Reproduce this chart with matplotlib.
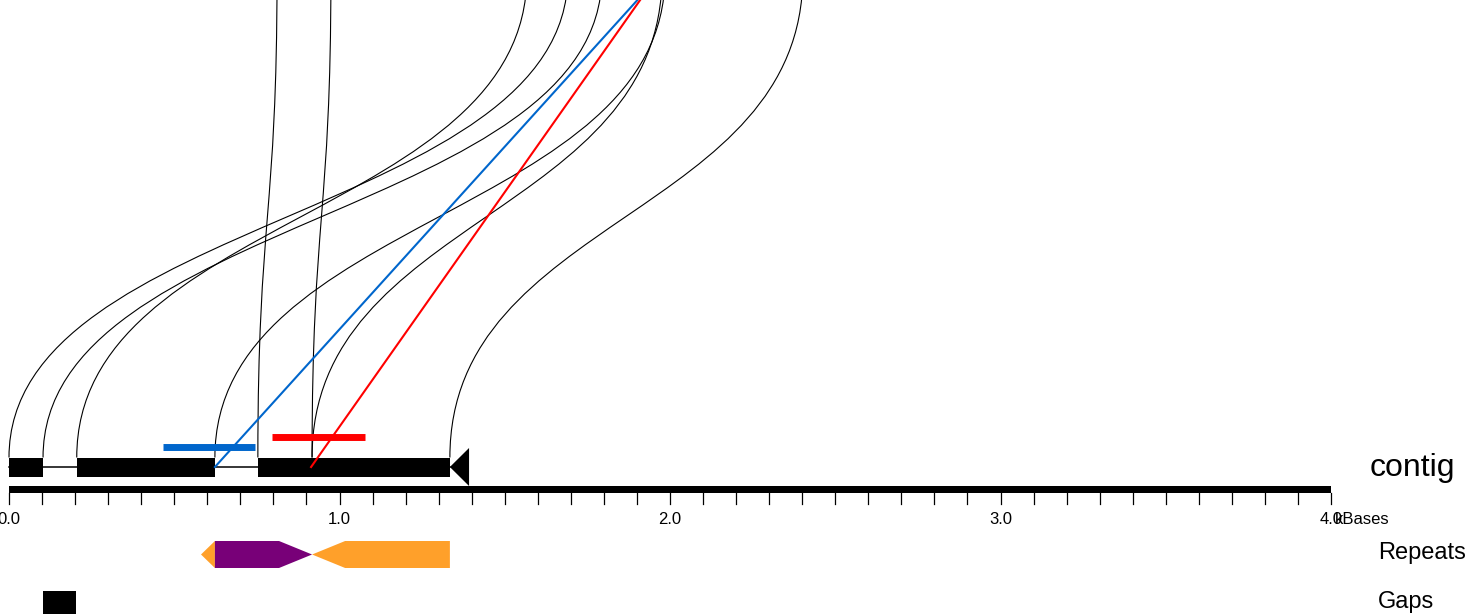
from matplotlib import pyplot as plt
from matplotlib.path import Path
from matplotlib.patches import PathPatch, Rectangle, Polygon
import numpy as np

plt.rcParams['font.family'] = ['Liberation Sans', 'DejaVu Sans']

# alignment blocks on the contig (kb)
block_starts = [0.0, 0.205, 0.754]
block_ends = [0.104, 0.623, 1.334]
contig_len = 1.392

# ribbons: contig position -> reference position (kb)
ribbon_bottom = [0.0, 0.103, 0.205, 0.623, 0.753, 0.917, 0.917, 1.334]
ribbon_top = [1.691, 1.794, 1.567, 1.985, 0.811, 0.974, 1.976, 2.402]

# linked reads (bar start, bar end, line from, line to)
read_colors = ["#0066cc", "#ff0000"]
read_starts = [0.466, 0.797]
read_ends = [0.744, 1.077]
read_line_bottom = [0.623, 0.914]
read_line_top = [1.970, 1.963]

# repeats track
rep_starts = [0.581, 0.623, 0.917]
rep_ends = [0.623, 0.917, 1.334]
rep_strand = ["-", "+", "-"]
rep_colors = ["#ffa02a", "#780078", "#ffa02a"]

# gaps track
gap_starts = [0.103]
gap_ends = [0.203]

ticks = np.round(np.arange(0, 4.01, 0.1), 1)
tick_labels = {0.0: "0.0", 1.0: "1.0", 2.0: "2.0", 3.0: "3.0", 4.0: "4.0"}

# layout (vertical, in pixels from top)
REF_Y = -25
CONTIG_Y = 467
BLOCK_H = 19
AXIS_Y = 486
REP_Y = 554.5
GAP_Y = 604.5
TRACK_H = 27

fig = plt.figure(figsize=(14.7, 6.14), dpi=100)
ax = fig.add_axes([0, 0, 1, 1])
ax.set_xlim(-9 / 330.5, 1461 / 330.5)
ax.set_ylim(614, 0)
ax.axis("off")

# ribbons as bezier curves
y0 = CONTIG_Y - BLOCK_H / 2
mid = (y0 + REF_Y) / 2
for b, t in zip(ribbon_bottom, ribbon_top):
    p = Path([(b, y0), (b, mid), (t, mid), (t, REF_Y)],
             [Path.MOVETO, Path.CURVE4, Path.CURVE4, Path.CURVE4])
    ax.add_patch(PathPatch(p, fill=False, color="black", lw=0.8))

# contig: connector line, blocks, arrow head
ax.plot([block_starts[0], block_ends[-1]], [CONTIG_Y, CONTIG_Y], color="black", lw=1.1)
for s, e in zip(block_starts, block_ends):
    ax.add_patch(Rectangle((s, CONTIG_Y - BLOCK_H / 2), e - s, BLOCK_H, color="black", lw=0))
ax.add_patch(Polygon([(block_ends[-1], CONTIG_Y), (contig_len, CONTIG_Y - 19),
                      (contig_len, CONTIG_Y + 19)], color="black", lw=0))

# linked reads
for i, c in enumerate(read_colors):
    ax.plot([read_line_bottom[i], read_line_top[i]], [CONTIG_Y, REF_Y], color=c, lw=1.5)
    ax.plot([read_starts[i], read_ends[i]], [446.7 - 10 * i, 446.7 - 10 * i],
            color=c, lw=5, solid_capstyle="butt")

# scale bar
ax.add_patch(Rectangle((0, AXIS_Y), 4.0, 7, color="black", lw=0))
for tk in ticks:
    ax.plot([tk, tk], [AXIS_Y + 7, AXIS_Y + 18], color="black", lw=0.9)
    if tk in tick_labels:
        ax.text(tk, 519.5, tick_labels[tk], ha="center", va="center", fontsize=12)
ax.text(4.0 + 0.012, 519.5, "kBases", ha="left", va="center", fontsize=12)

# repeats
for s, e, st, c in zip(rep_starts, rep_ends, rep_strand, rep_colors):
    h = min(0.1, e - s)
    top, bot = REP_Y - TRACK_H / 2, REP_Y + TRACK_H / 2
    if st == "+":
        pts = [(s, top), (e - h, top), (e, REP_Y), (e - h, bot), (s, bot)]
    else:
        pts = [(s, REP_Y), (s + h, top), (e, top), (e, bot), (s + h, bot)]
    ax.add_patch(Polygon(pts, color=c, lw=0))

# gaps
for s, e in zip(gap_starts, gap_ends):
    ax.add_patch(Rectangle((s, GAP_Y - TRACK_H / 2), e - s, TRACK_H, color="black", lw=0))

ax.text(1370 / 330.5 - 9 / 330.5, CONTIG_Y + 1, "contig", ha="left", va="center", fontsize=23)
ax.text(1378 / 330.5 - 9 / 330.5, 553, "Repeats", ha="left", va="center", fontsize=17)
ax.text(1378 / 330.5 - 9 / 330.5, 602, "Gaps", ha="left", va="center", fontsize=17)

plt.savefig("out.png", dpi=100)
